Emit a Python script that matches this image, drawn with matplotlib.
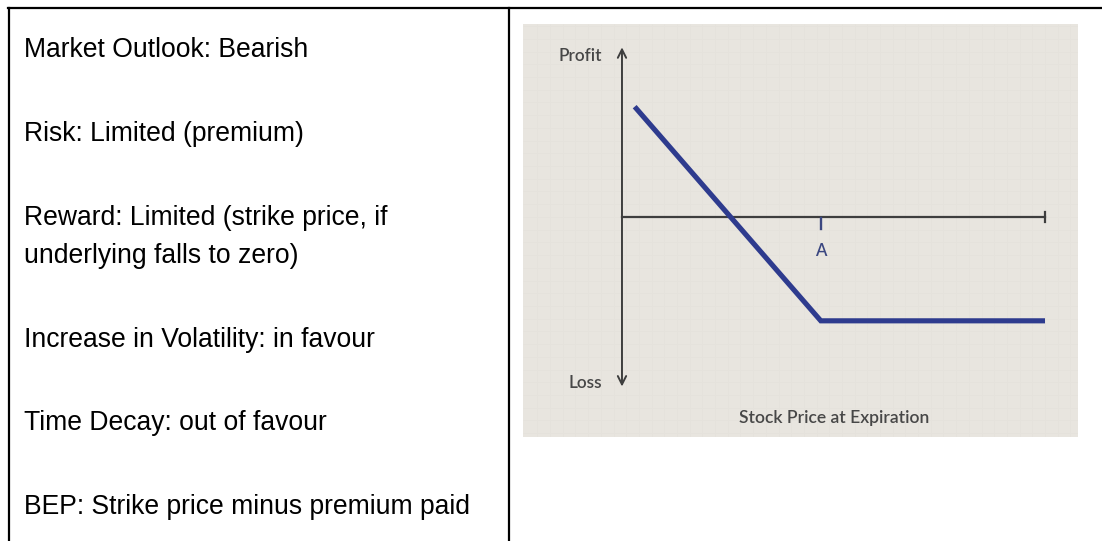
import matplotlib
matplotlib.use("Agg")
import matplotlib.pyplot as plt
from matplotlib.lines import Line2D

# text column on the left
notes = [
    "Market Outlook: Bearish",
    "Risk: Limited (premium)",
    "Reward: Limited (strike price, if\nunderlying falls to zero)",
    "Increase in Volatility: in favour",
    "Time Decay: out of favour",
    "BEP: Strike price minus premium paid",
]

# payoff of a long put at expiration
stock_price = [3, 47, 100]
profit = [52, -49, -49]
strike = 47
strike_label = "A"

W, H = 1102, 541


def fx(px):
    return px / W


def fy(py):
    return 1 - py / H


fig = plt.figure(figsize=(W / 100, H / 100), dpi=100)
fig.patch.set_facecolor("white")

# table borders
fig.add_artist(Line2D([fx(8), 1], [fy(8), fy(8)], color="black", lw=1.6))
fig.add_artist(Line2D([fx(9), fx(9)], [fy(8), 0], color="black", lw=1.6))
fig.add_artist(Line2D([fx(509), fx(509)], [fy(8), 0], color="black", lw=1.6))

# notes, baselines
baselines = [57, 141, 225, 347, 430, 514]
for txt, base in zip(notes, baselines):
    lines = txt.split("\n")
    for i, line in enumerate(lines):
        fig.text(fx(24), fy(base + 38 * i), line, fontsize=19.1,
                 family="Liberation Sans", color="black", va="baseline")

# payoff chart
ax = fig.add_axes([fx(523), fy(437), fx(1078) - fx(523), fy(24) - fy(437)])
ax.set_facecolor("#e8e5df")
ax.set_xlim(-23.4, 107.8)
ax.set_ylim(-103.8, 91.0)
for s in ax.spines.values():
    s.set_visible(False)
ax.set_xticks([])
ax.set_yticks([])

# faint paper grid
for gx in range(-20, 108, 3):
    ax.axvline(gx, color="#e5e2dc", lw=0.5, zorder=0)
for gy in range(-102, 91, 6):
    ax.axhline(gy, color="#e5e2dc", lw=0.5, zorder=0)

axis_col = "#3e3e3e"
ax.annotate("", xy=(0, 80), xytext=(0, -80),
            arrowprops=dict(arrowstyle="<->,head_length=0.6,head_width=0.3",
                            color=axis_col, lw=1.4, shrinkA=0, shrinkB=0))
ax.plot([0, 100], [0, 0], color=axis_col, lw=1.6)
ax.plot([100, 100], [-2.4, 2.4], color=axis_col, lw=1.6)
ax.plot([strike, strike], [-0.5, -5.7], color="#3a4680", lw=1.7)

ax.plot(stock_price, profit, color="#2e3b8e", lw=3.7,
        solid_capstyle="butt", solid_joinstyle="miter")

lab_col = "#474747"
ax.text(-4.8, 73.7, "Profit", ha="right", va="baseline", fontsize=12.3,
        family="Lato", fontweight="semibold", color=lab_col)
ax.text(-4.8, -80.7, "Loss", ha="right", va="baseline", fontsize=12.3,
        family="Lato", fontweight="semibold", color=lab_col)
ax.text(strike, -18.4, strike_label, ha="center", va="baseline", fontsize=12,
        family="Lato", fontweight="semibold", color="#3a4680")
ax.text(50.1, -97.2, "Stock Price at Expiration", ha="center", va="baseline",
        fontsize=12.6, family="Lato", fontweight="semibold", color=lab_col)

fig.savefig("out.png", dpi=100, facecolor="white")
